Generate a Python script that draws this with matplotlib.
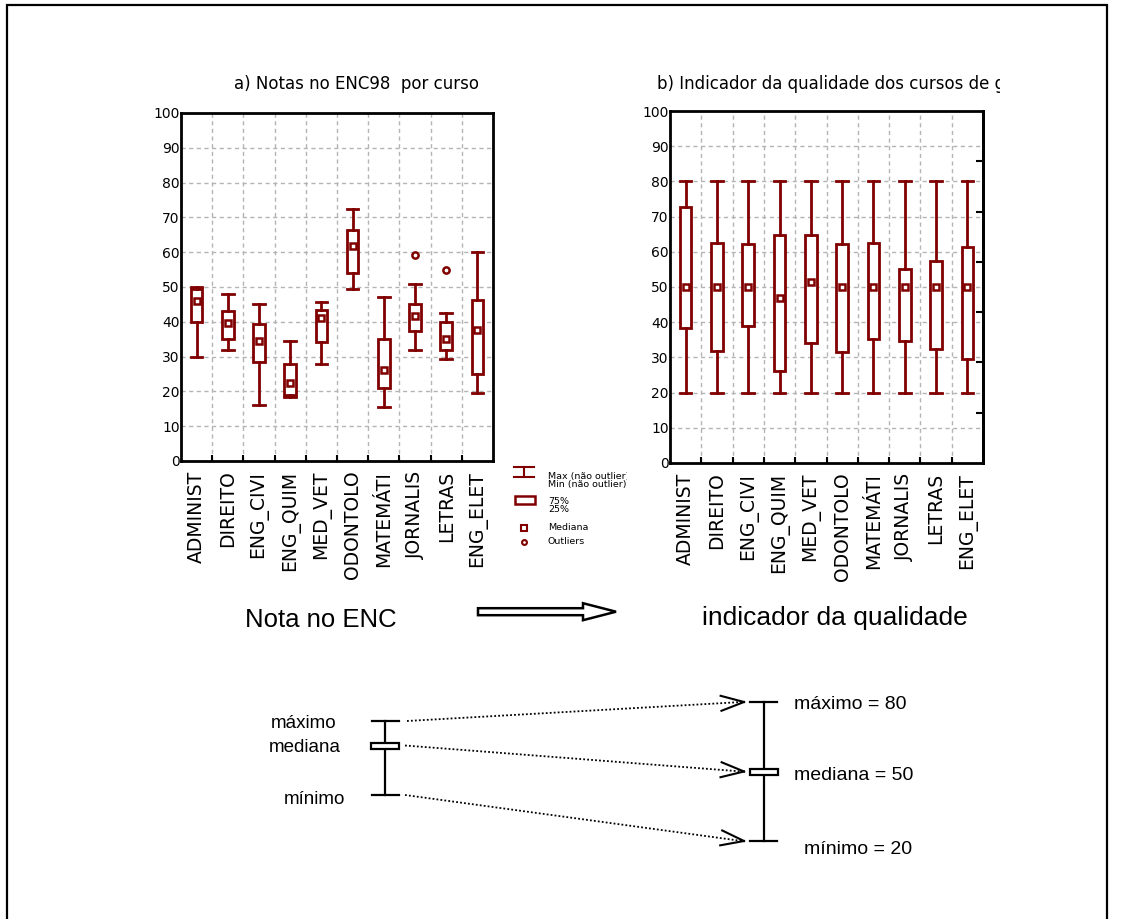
import numpy as np
import matplotlib

matplotlib.use("Agg")
import matplotlib.pyplot as plt
from matplotlib.patches import FancyArrow, Rectangle
from matplotlib.transforms import Bbox

plt.rcParams["font.family"] = ["DejaVu Sans"]

W, H = 1132, 919
RED = "#800000"
GRID = "#b4b4b4"
DIAGRAM_FONT = ["Liberation Sans", "DejaVu Sans"]

cursos = ["ADMINIST", "DIREITO", "ENG_CIVI", "ENG_QUIM", "MED_VET",
          "ODONTOLO", "MATEMÁTI", "JORNALIS", "LETRAS", "ENG_ELET"]

# a) ENC98 scores per course
notas_max = [50, 48, 45, 34.5, 45.8, 72.3, 47, 51, 42.5, 60]
notas_q3 = [49.5, 43, 39.5, 28, 43.5, 66.5, 35, 45.2, 40, 46.3]
notas_med = [46, 39.7, 34.5, 22.5, 41.2, 61.7, 26.2, 41.8, 35, 37.5]
notas_q1 = [40, 35, 28.5, 19, 34.3, 54, 21, 37.3, 32, 25]
notas_min = [30, 32, 16, 18.5, 28, 49.3, 15.5, 32, 29.2, 19.5]
notas_out = [[], [], [], [], [], [], [], [59.3], [55], []]

# b) quality indicator per course
ind_max = [80] * 10
ind_q3 = [72.6, 62.6, 62.1, 64.9, 64.9, 62.1, 62.6, 55.0, 57.4, 61.5]
ind_med = [50, 50, 50, 47, 51.3, 50, 50, 50, 50, 50]
ind_q1 = [38.3, 31.7, 38.8, 26.0, 34.0, 31.6, 35.1, 34.6, 32.3, 29.5]
ind_min = [20] * 10
ind_out = [[] for _ in cursos]

# reference values of the indicator scale
ref_max, ref_med, ref_min = 80, 50, 20


def draw_boxes(ax, q1, med, q3, lo, hi, fliers):
    stats = [dict(q1=a, med=m, q3=b, whislo=l, whishi=h, mean=m, fliers=f)
             for a, m, b, l, h, f in zip(q1, med, q3, lo, hi, fliers)]
    ax.bxp(stats, positions=np.arange(len(stats)), widths=0.37, capwidths=0.37,
           patch_artist=True, showmeans=True, manage_ticks=False,
           boxprops=dict(facecolor="white", edgecolor=RED, linewidth=2),
           whiskerprops=dict(color=RED, linewidth=2),
           capprops=dict(color=RED, linewidth=2),
           medianprops=dict(visible=False),
           meanprops=dict(marker="s", markersize=5, markerfacecolor="white",
                          markeredgecolor=RED, markeredgewidth=1.8),
           flierprops=dict(marker="o", markersize=4.5, markerfacecolor="white",
                           markeredgecolor=RED, markeredgewidth=1.8))

    n = len(stats)
    ax.set_xlim(-0.5, n - 0.5)
    ax.set_ylim(0, 100)
    ax.set_axisbelow(True)
    ax.set_xticks(np.arange(n))
    ax.set_xticklabels(cursos, rotation=90, fontsize=13.5)
    ax.set_xticks(np.arange(0.5, n - 0.5, 1), minor=True)
    ax.set_yticks(np.arange(0, 101, 10))
    ax.tick_params(axis="x", which="major", length=0, pad=7)
    ax.tick_params(axis="x", which="minor", direction="in", length=4, width=1.5)
    ax.tick_params(axis="y", length=0, pad=1, labelsize=10)
    ax.grid(axis="y", which="major", color=GRID, linestyle=(0, (3, 2.5)), linewidth=1)
    ax.grid(axis="x", which="minor", color=GRID, linestyle=(0, (3, 2.5)), linewidth=1)
    for sp in ax.spines.values():
        sp.set_linewidth(2)


fig = plt.figure(figsize=(W / 100, H / 100), dpi=100)


def px_axes(x0, y0, x1, y1):
    return fig.add_axes([x0 / W, 1 - y1 / H, (x1 - x0) / W, (y1 - y0) / H])


ax_a = px_axes(181, 113, 493, 461)
draw_boxes(ax_a, notas_q1, notas_med, notas_q3, notas_min, notas_max, notas_out)

ax_b = px_axes(670, 111, 983, 463)
draw_boxes(ax_b, ind_q1, ind_med, ind_q3, ind_min, ind_max, ind_out)
sec = ax_b.secondary_yaxis("right")
sec.set_yticks(np.arange(1, 7) * 100 / 7)
sec.set_yticklabels([])
sec.tick_params(direction="in", length=5, width=1.5)
sec.spines["right"].set_linewidth(2)

# overlay in figure pixels for frame, legend and the explanatory diagram
ov = fig.add_axes([0, 0, 1, 1])
ov.set_xlim(0, W)
ov.set_ylim(H, 0)
ov.axis("off")
ov.set_zorder(5)

ov.plot([7, 7, 1107, 1107], [H, 5, 5, H], color="black", lw=1.6,
        solid_joinstyle="miter")

ov.text(357, 89, "a) Notas no ENC98  por curso", ha="center", va="baseline",
        fontsize=12)
t = ov.text(657, 89, "b) Indicador da qualidade dos cursos de graduação",
            ha="left", va="baseline", fontsize=12)
t.set_clip_box(Bbox.from_extents(0, 0, 1000, H))
t.set_clip_on(True)

# legend for the box plots
ov.plot([514, 534], [467, 467], color=RED, lw=1.5)
ov.plot([524, 524], [467, 477], color=RED, lw=1.5)
ov.plot([514, 534], [477, 477], color=RED, lw=1.5)
ov.add_patch(Rectangle((515, 496), 20, 8, fill=False, ec=RED, lw=1.8))
ov.plot(524, 528, marker="s", ms=4, mfc="white", mec=RED, mew=1.5)
ov.plot(524, 542, marker="o", ms=3.5, mfc="white", mec=RED, mew=1.5)
for label, y in [("Max (não outlier)", 476), ("Min (não outlier)", 484.5),
                 ("75%", 501), ("25%", 509.5), ("Mediana", 527), ("Outliers", 541)]:
    lt = ov.text(548, y, label, ha="left", va="center", fontsize=6.8)
    lt.set_clip_box(Bbox.from_extents(0, 0, 627, H))
    lt.set_clip_on(True)

# score -> indicator diagram
ov.text(245, 627, "Nota no ENC", ha="left", va="baseline", fontsize=18.5,
        family=DIAGRAM_FONT)
ov.add_patch(FancyArrow(478, 611.7, 138, 0, width=7, head_width=17,
                        head_length=33, length_includes_head=True,
                        fc="white", ec="black", lw=1.8))
ov.text(702, 625, "indicador da qualidade", ha="left", va="baseline",
        fontsize=19, family=DIAGRAM_FONT)


def mini_box(x, y_max, y_med, y_min):
    ov.plot([x, x], [y_max, y_min], color="black", lw=1.6)
    ov.plot([x - 13.5, x + 13.5], [y_max, y_max], color="black", lw=1.6)
    ov.plot([x - 13.5, x + 13.5], [y_min, y_min], color="black", lw=1.6)
    ov.add_patch(Rectangle((x - 14, y_med - 3), 28, 6, fc="white", ec="black",
                           lw=1.6, zorder=3))


def ind_y(v):
    # indicator value -> pixel row on the right-hand sketch
    return 841 - (v - ref_min) * (841 - 702) / (ref_max - ref_min)


left_y = {"max": 721, "med": 745.5, "min": 795}
mini_box(385, left_y["max"], left_y["med"], left_y["min"])
mini_box(763.5, ind_y(ref_max), ind_y(ref_med), ind_y(ref_min))

ov.text(336, left_y["max"] + 7, "máximo", ha="right", va="baseline",
        fontsize=13.5, family=DIAGRAM_FONT)
ov.text(341, left_y["med"] + 7, "mediana", ha="right", va="baseline",
        fontsize=13.5, family=DIAGRAM_FONT)
ov.text(345, left_y["min"] + 9, "mínimo", ha="right", va="baseline",
        fontsize=13.5, family=DIAGRAM_FONT)

ov.text(794, ind_y(ref_max) + 7, f"máximo = {ref_max}", ha="left", va="baseline",
        fontsize=14, family=DIAGRAM_FONT)
ov.text(794, ind_y(ref_med) + 8, f"mediana = {ref_med}", ha="left", va="baseline",
        fontsize=14, family=DIAGRAM_FONT)
ov.text(804, ind_y(ref_min) + 13, f"mínimo = {ref_min}", ha="left", va="baseline",
        fontsize=14, family=DIAGRAM_FONT)

tip_x = 744
for (x0, y0), v in zip([(407, left_y["max"]), (405, left_y["med"]), (405, left_y["min"])],
                       [ref_max, ref_med, ref_min]):
    y1 = ind_y(v)
    ov.plot([x0, tip_x - 2], [y0, y1], color="black", lw=1.3,
            linestyle=(0, (1, 1.2)))
    d = np.array([tip_x - x0, y1 - y0], dtype=float)
    d /= np.hypot(*d)
    n = np.array([-d[1], d[0]])
    tip = np.array([tip_x, y1])
    back = tip - 23 * d
    for s in (1, -1):
        p = back + s * 7.5 * n
        ov.plot([p[0], tip[0]], [p[1], tip[1]], color="black", lw=1.5)

fig.savefig("out.png", dpi=100)
